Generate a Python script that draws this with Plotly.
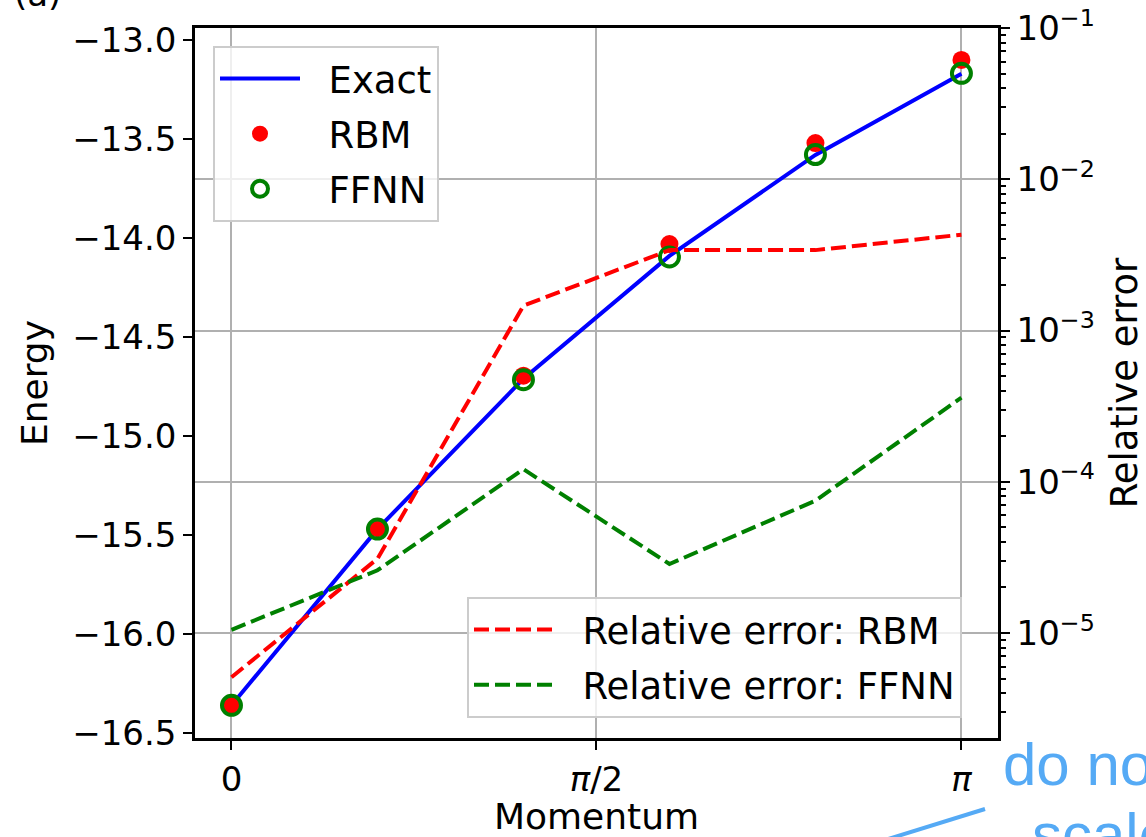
import plotly.graph_objects as go

# ---------------- data ----------------
momentum = [0.0, 0.6283, 1.2566, 1.8850, 2.5133, 3.1416]
energy_exact = [-16.36, -15.47, -14.71, -14.09, -13.58, -13.17]
energy_rbm = [-16.36, -15.465, -14.695, -14.03, -13.52, -13.10]
energy_ffnn = [-16.36, -15.47, -14.715, -14.095, -13.578, -13.168]
relerr_rbm = [5.1e-6, 3.1e-5, 1.46e-3, 3.4e-3, 3.4e-3, 4.3e-3]
relerr_ffnn = [1.05e-5, 2.6e-5, 1.21e-4, 2.86e-5, 7.5e-5, 3.6e-4]

x_tickvals = [0.0, 1.5708, 3.1416]
x_ticktext = ["0", "<i>π</i>/2", "<i>π</i>"]
y_tickvals = [-13.0, -13.5, -14.0, -14.5, -15.0, -15.5, -16.0, -16.5]
y_ticktext = ["−13.0", "−13.5", "−14.0", "−14.5", "−15.0", "−15.5", "−16.0", "−16.5"]
y2_tickvals = [1e-5, 1e-4, 1e-3, 1e-2, 1e-1]
y2_ticktext = ["10<sup>−5</sup>", "10<sup>−4</sup>", "10<sup>−3</sup>", "10<sup>−2</sup>", "10<sup>−1</sup>"]
y2_minor = [m * 10.0 ** e for e in (-6, -5, -4, -3, -2) for m in range(2, 10)]

FONT = "DejaVu Sans"
W, H = 1146, 837
L, R, T, B = 195, 148, 28, 99
PW, PH = W - L - R, H - T - B
SP = "\u00a0\u00a0"


def px(x):
    return (x - L) / PW


def py(y):
    return (H - B - y) / PH


fig = go.Figure()

fig.add_trace(go.Scatter(x=momentum, y=energy_exact, mode="lines", name=SP + "Exact",
                         line=dict(color="#0000ff", width=4), legend="legend",
                         legendgroup="g1"))
fig.add_trace(go.Scatter(x=momentum, y=energy_rbm, mode="markers", name=SP + "RBM",
                         marker=dict(color="#ff0000", size=18, line=dict(width=0)),
                         legend="legend", legendgroup="g2"))
fig.add_trace(go.Scatter(x=momentum, y=energy_ffnn, mode="markers", name=SP + "FFNN",
                         marker=dict(symbol="circle-open", color="#008000", size=19,
                                     line=dict(width=4, color="#008000")),
                         legend="legend", legendgroup="g3"))
fig.add_trace(go.Scatter(x=momentum, y=relerr_rbm, mode="lines",
                         name=SP + "Relative error: RBM",
                         line=dict(color="#ff0000", width=4, dash="15px,6px"),
                         yaxis="y2", legend="legend2", legendgroup="g4"))
fig.add_trace(go.Scatter(x=momentum, y=relerr_ffnn, mode="lines",
                         name=SP + "Relative error: FFNN",
                         line=dict(color="#008000", width=4, dash="15px,6px"),
                         yaxis="y2", legend="legend2", legendgroup="g5"))

axis_common = dict(showline=True, linecolor="black", linewidth=2.5, ticks="outside",
                   ticklen=9, tickwidth=2, tickcolor="black", zeroline=False,
                   automargin=False,
                   tickfont=dict(family=FONT, size=34, color="black"))

fig.update_layout(
    width=W, height=H, autosize=False,
    margin=dict(l=L, r=R, t=T, b=B, autoexpand=False),
    paper_bgcolor="white", plot_bgcolor="white",
    font=dict(family=FONT, size=34, color="black"),
    xaxis=dict(range=[-0.157, 3.299], tickmode="array", tickvals=x_tickvals,
               ticktext=x_ticktext, mirror=True, showgrid=True, gridcolor="#b0b0b0",
               gridwidth=2,
               title=dict(text="Momentum", font=dict(family=FONT, size=36), standoff=7),
               **axis_common),
    yaxis=dict(range=[-16.525, -12.939], tickmode="array", tickvals=y_tickvals,
               ticktext=y_ticktext, showgrid=False,
               title=dict(text="Energy", font=dict(family=FONT, size=36), standoff=14),
               **axis_common),
    yaxis2=dict(type="log", range=[-5.694, -1.0], overlaying="y", side="right",
                tickmode="array", tickvals=y2_tickvals, ticktext=y2_ticktext,
                showgrid=True, gridcolor="#b0b0b0", gridwidth=2,
                minor=dict(tickmode="array", tickvals=y2_minor, ticks="outside",
                           ticklen=5, tickwidth=1.5, tickcolor="black", showgrid=False),
                title=dict(text="Relative error", font=dict(family=FONT, size=37), standoff=20),
                **axis_common),
    legend=dict(x=px(213), y=py(46), xanchor="left", yanchor="top",
                bgcolor="rgba(255,255,255,0.8)", bordercolor="#cccccc", borderwidth=2,
                font=dict(family=FONT, size=37), tracegroupgap=4, itemwidth=80,
                traceorder="grouped"),
    legend2=dict(x=px(962), y=py(718), xanchor="right", yanchor="bottom",
                 bgcolor="rgba(255,255,255,0.8)", bordercolor="#cccccc", borderwidth=2,
                 font=dict(family=FONT, size=37), tracegroupgap=4, itemwidth=80,
                 traceorder="grouped"),
    showlegend=True,
)

fig.add_annotation(text="(a)", xref="paper", yref="paper", x=px(37), y=py(-6),
                   xanchor="center", yanchor="middle", showarrow=False,
                   font=dict(family=FONT, size=34, color="black"))
fig.add_annotation(text="do not", xref="paper", yref="paper", x=px(1001), y=py(764),
                   xanchor="left", yanchor="middle", showarrow=False,
                   font=dict(family="Liberation Sans", size=60, color="#55aaf5"))
fig.add_annotation(text="scale", xref="paper", yref="paper", x=px(1030), y=py(834),
                   xanchor="left", yanchor="middle", showarrow=False,
                   font=dict(family="Liberation Sans", size=60, color="#55aaf5"))
fig.add_shape(type="line", xref="paper", yref="paper", x0=px(885), y0=py(840),
              x1=px(985), y1=py(809), line=dict(color="#55aaf5", width=4), layer="above")

fig.write_html("out.html")
